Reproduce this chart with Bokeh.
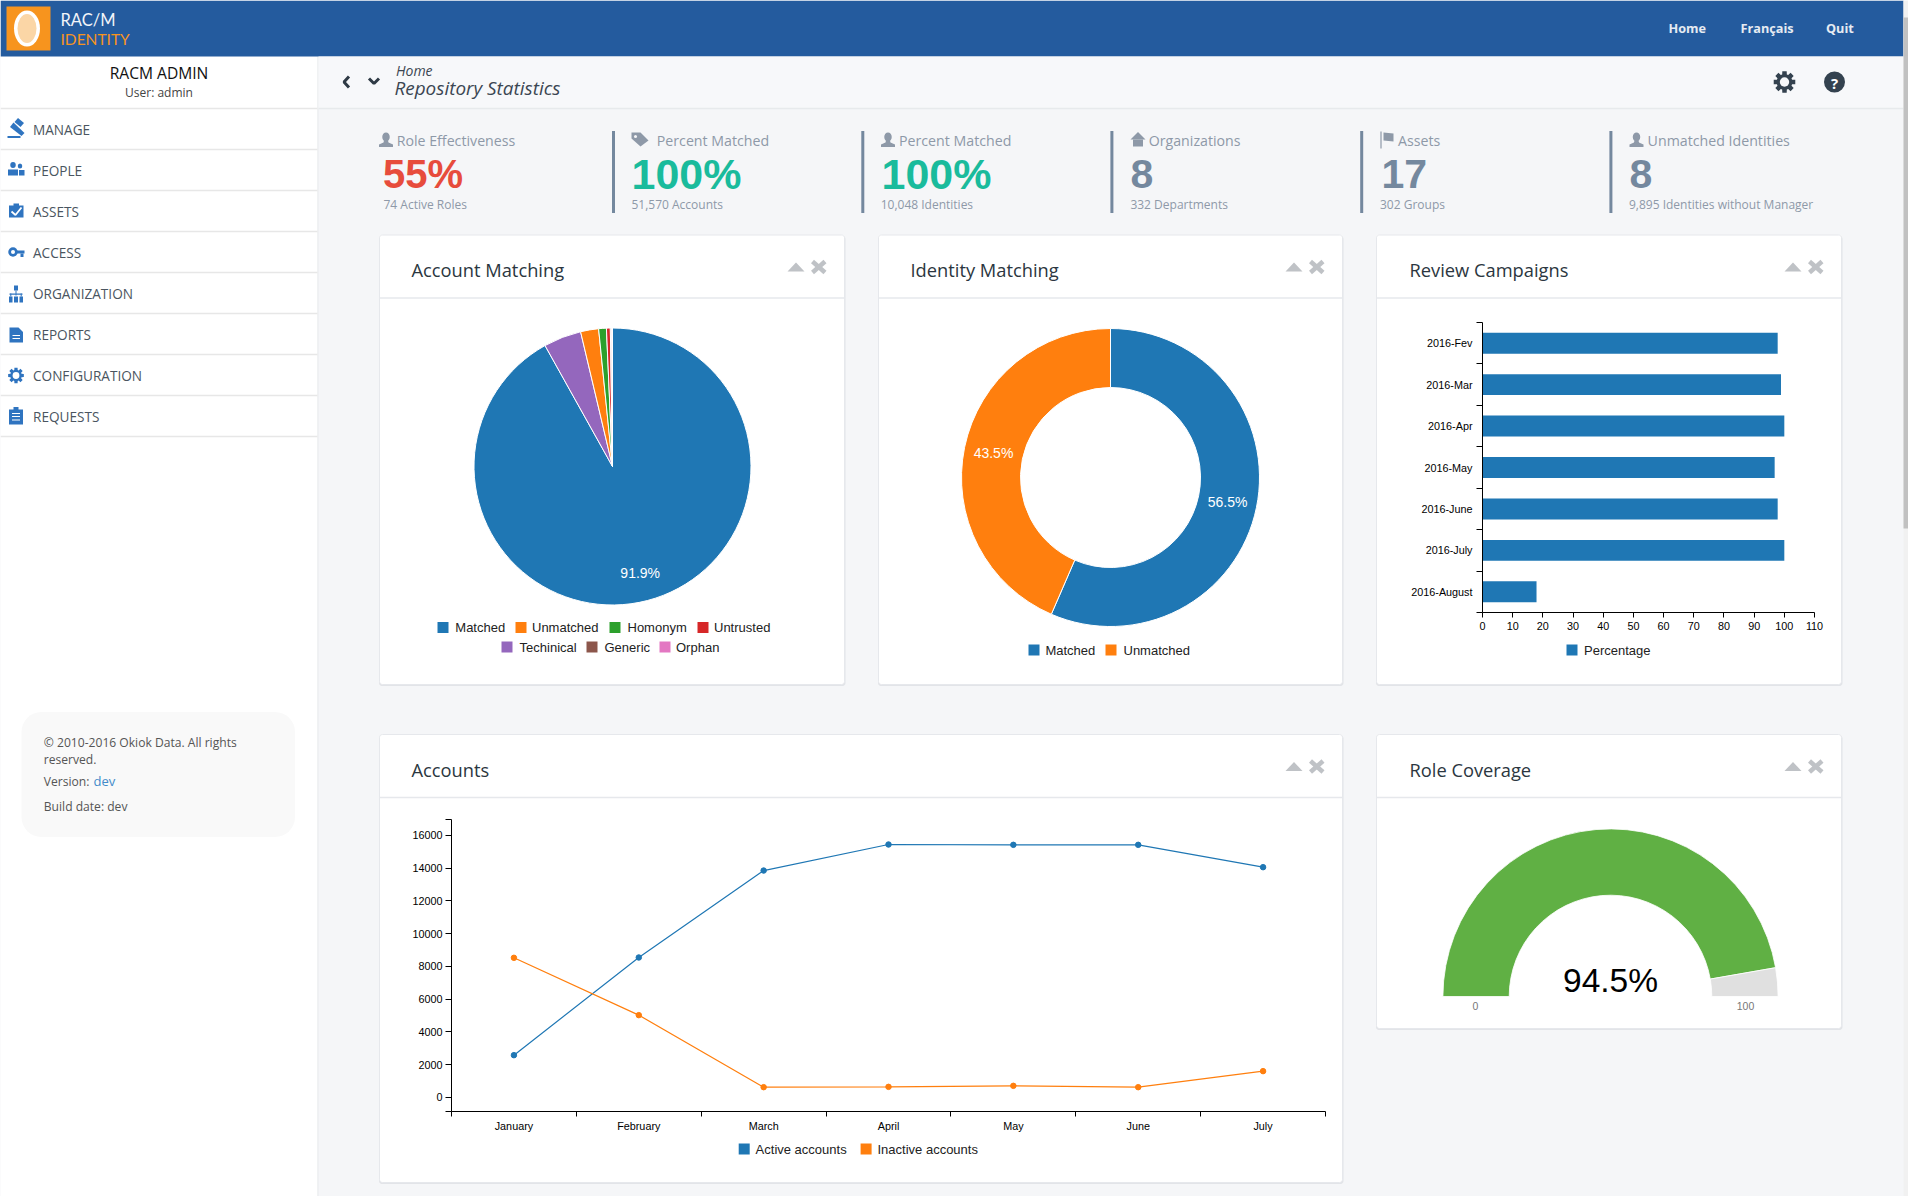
import math
import numpy as np
from bokeh.core.properties import value
from bokeh.embed import file_html
from bokeh.layouts import column
from bokeh.models import FixedTicker, LinearAxis, Range1d
from bokeh.plotting import figure
from bokeh.resources import INLINE

# ---- chart data ----
account_names = ["Matched", "Unmatched", "Homonym", "Untrusted", "Techinical", "Generic", "Orphan"]
account_values = [91.9, 2.1, 0.9, 0.45, 4.4, 0.15, 0.1]
identity_names = ["Matched", "Unmatched"]
identity_values = [56.5, 43.5]
campaign_names = ["2016-Fev", "2016-Mar", "2016-Apr", "2016-May", "2016-June", "2016-July", "2016-August"]
campaign_values = [97.8, 98.9, 100, 96.8, 97.8, 100, 17.9]
months = ["January", "February", "March", "April", "May", "June", "July"]
active_accounts = [2585, 8550, 13860, 15450, 15430, 15430, 14065]
inactive_accounts = [8530, 5030, 630, 650, 712, 630, 1610]
role_coverage = 94.5

stat_labels = ["Role Effectiveness", "Percent Matched", "Percent Matched", "Organizations", "Assets", "Unmatched Identities"]
stat_values = ["55%", "100%", "100%", "8", "17", "8"]
stat_subs = ["74 Active Roles", "51,570 Accounts", "10,048 Identities", "332 Departments", "302 Groups", "9,895 Identities without Manager"]
menu_items = ["MANAGE", "PEOPLE", "ASSETS", "ACCESS", "ORGANIZATION", "REPORTS", "CONFIGURATION", "REQUESTS"]
nav_items = ["Home", "Français", "Quit"]
card_titles = ["Account Matching", "Identity Matching", "Review Campaigns", "Accounts", "Role Coverage"]

# ---- styles ----
PALETTE = ["#1f77b4", "#ff7f0e", "#2ca02c", "#d62728", "#9467bd", "#8c564b", "#e377c2"]
BG = "#f5f6f8"
UI = "Open Sans"
CH = "Liberation Sans"

# page figure: data coordinates equal page pixels of the screenshot
PW, PH = 1908, 1196
p = figure(width=PW, height=PH, x_range=Range1d(0, PW), y_range=Range1d(PH, 0),
           output_backend="svg", toolbar_location=None, min_border=0, frame_align=False,
           x_axis_type=None, y_axis_type=None, outline_line_color=None,
           background_fill_color=BG, border_fill_color=BG)
p.grid.visible = False


def txt(x, y, s, size, color, font=UI, style="normal", align="left", base="middle"):
    p.text([x], [y], text=[s], text_font=value(font), text_font_size=f"{size}px", text_color=color,
           text_font_style=style, text_align=align, text_baseline=base)


def box(x0, y0, x1, y1, color):
    p.quad(left=[x0], right=[x1], top=[y0], bottom=[y1], fill_color=color, line_color=None)


def poly(xs, ys, color):
    p.patch(list(xs), list(ys), fill_color=color, line_color=None)


def ell(x, y, w, h, color):
    p.ellipse([x], [y], width=w, height=h, fill_color=color, line_color=None)


def ln(xs, ys, color, w=1.0):
    p.line(list(xs), list(ys), line_color=color, line_width=w)


def rrect(x0, y0, x1, y1, r, color, line=None):
    xs, ys = [], []
    for cx, cy, a0 in [(x1 - r, y0 + r, -90), (x1 - r, y1 - r, 0), (x0 + r, y1 - r, 90), (x0 + r, y0 + r, 180)]:
        for a in np.radians(np.linspace(a0, a0 + 90, 9)):
            xs.append(cx + r * math.cos(a))
            ys.append(cy + r * math.sin(a))
    p.patch(xs, ys, fill_color=color, line_color=line, line_width=1)


def gear(x, y, r, color, hole):
    xs, ys = [], []
    for i in range(8):
        c = i * math.pi / 4
        for da, k in [(-0.30, 0.72), (-0.20, 1.0), (0.20, 1.0), (0.30, 0.72)]:
            xs.append(x + r * k * math.cos(c + da))
            ys.append(y + r * k * math.sin(c + da))
    poly(xs, ys, color)
    ell(x, y, r * 0.85, r * 0.85, hole)


def person(x, y, color):
    ell(x + 6.5, y + 4.5, 7.5, 9, color)
    poly([x + 4.5, x + 8.5, x + 9, x + 13.5, x + 13.5, x - 0.5, x - 0.5, x + 4],
         [y + 8, y + 8, y + 10, y + 12, y + 14.5, y + 14.5, y + 12, y + 10], color)


def legend(names, colors, sq_x, text_x, y):
    for n, c, sx, tx in zip(names, colors, sq_x, text_x):
        box(sx, y - 5.5, sx + 11, y + 5.5, c)
        txt(tx - 0.5, y, n, 13, "#222222", font=CH)


# ---- page chrome ----
box(0, 0, 318, PH, "#ffffff")
ln([317.5, 317.5], [56, PH], "#e7eaec", 1.2)
box(0, 0, 1903, 56, "#245b9e")
box(318, 56, 1903, 108, "#f7f8fa")
ln([318, 1903], [108, 108], "#e7eaec", 1.5)
# window scrollbar
box(1903, 0, PW, PH, "#f1f1f1")
box(1903, 17, PW, 528, "#c1c1c1")

# logo
box(6, 6, 50, 50, "#f7941e")
ell(26.5, 28, 26, 36, "#ffffff")
ell(26.5, 28, 19, 29, "#fbd6a6")
txt(60, 19.5, "RAC/M", 16.5, "#f2f5f9", font="Lato")
txt(60, 38, "IDENTITY", 15.5, "#f7941e", font="Lato")

for s, x in zip(nav_items, [1668, 1740, 1825.5]):
    txt(x, 27.5, s, 12.7, "#e6ebf2", style="bold")

# sidebar
txt(158.5, 72.5, "RACM ADMIN", 15.6, "#111111", align="center")
txt(158.5, 92, "User: admin", 12, "#444444", align="center")
for yy in [108, 149, 190, 231, 272, 313, 354, 395, 436]:
    ln([0, 317], [yy, yy], "#e7e7e7", 1.3)
menu_y = [128.6, 169.6, 210.6, 251.6, 292.6, 333.6, 374.6, 415.6]
for s, yy in zip(menu_items, menu_y):
    txt(32.5, yy, s, 13.6, "#4a5560")

ICON = "#2f74c0"
# gavel
poly([14, 20, 23.5, 17.5], [121.5, 126.5, 122.5, 117.5], ICON)
poly([9.5, 13, 24, 21], [126.5, 122, 132.5, 135.5], ICON)
ln([7, 20], [136.5, 136.5], ICON, 1.8)
# people
ell(12.5, 164.5, 5.5, 6, ICON)
ell(19.5, 165.5, 4.5, 5, ICON)
poly([7.5, 17.5, 17.5, 7.5], [175, 175, 169, 169], ICON)
poly([18.5, 24, 24, 18.5], [175, 175, 169.5, 169.5], ICON)
# assets clipboard
box(8.5, 205, 23, 217, ICON)
box(13, 203, 18.5, 207, ICON)
ln([11, 15, 21], [211, 214.5, 207], "#ffffff", 1.8)
# key
ell(12.5, 251.5, 9.5, 9.5, ICON)
ell(12.5, 251.5, 4, 4, "#ffffff")
box(15, 250, 24, 253, ICON)
box(20, 253, 23, 256.5, ICON)
# sitemap
box(13.5, 285, 17.5, 290, ICON)
box(15, 290, 16, 295, ICON)
box(9, 293, 22, 294.3, ICON)
box(8.5, 296, 12, 302, ICON)
box(13.5, 296, 17.5, 302, ICON)
box(19, 296, 22.5, 302, ICON)
box(9.8, 293, 10.8, 296, ICON)
box(20.2, 293, 21.2, 296, ICON)
# report file
poly([9, 18, 22.5, 22.5, 9], [327, 327, 331.5, 342, 342], ICON)
for yy in [335, 338]:
    ln([12, 19.5], [yy, yy], "#ffffff", 1.2)
# configuration gear
gear(15.5, 375, 8, ICON, "#ffffff")
# requests clipboard
box(8.5, 409, 22.5, 424, ICON)
box(13, 406.5, 18, 410, ICON)
for yy in [413, 416, 419.5]:
    ln([11.5, 19.5], [yy, yy], "#ffffff", 1.2)

# footer
rrect(21, 711.5, 294.5, 836.5, 20, "#f9f9f9")
txt(43.3, 741.7, "© 2010-2016 Okiok Data. All rights", 12.1, "#555555")
txt(43.3, 759, "reserved.", 12.1, "#555555")
txt(43.3, 780.7, "Version:", 12.1, "#555555")
txt(93, 780.7, "dev", 13, "#428bca")
txt(43.3, 806, "Build date: dev", 12.1, "#555555")

# breadcrumb bar
ln([348.5, 343.5, 348.5], [76, 81.5, 87], "#2f3a45", 3)
ln([368.5, 373.5, 378.5], [78, 83, 78], "#2f3a45", 3)
txt(395.5, 69.7, "Home", 14, "#3b4652", style="italic")
txt(394, 87.5, "Repository Statistics", 18.9, "#3b4652", style="italic")
gear(1784, 81.5, 11, "#34424f", "#f7f8fa")
ell(1834, 81.5, 21, 21, "#34424f")
txt(1834, 82, "?", 15, "#ffffff", style="bold", align="center")

# key figures
GREY = "#8e99a8"
STEEL = "#74889e"
val_colors = ["#e74c3c", "#1abb9c", "#1abb9c", STEEL, STEEL, STEEL]
val_sizes = [40, 43, 43, 41, 41, 41]
label_x = [396.2, 656.3, 898.5, 1148.2, 1397.5, 1647.1]
value_x = [384.5, 633, 883, 1132, 1383, 1631]
sub_x = [383, 631, 880.2, 1129.9, 1379.5, 1628.5]
for lab, val, sub, lx, vx, sx, col, sz in zip(stat_labels, stat_values, stat_subs, label_x, value_x, sub_x, val_colors, val_sizes):
    txt(lx, 140, lab, 14.2, GREY)
    txt(vx - 2, 173, val, sz, col, font=CH, style="bold")
    txt(sx, 204, sub, 12, GREY)
for x in [613, 862.3, 1111.4, 1361.2, 1610.4]:
    box(x - 1.5, 130.5, x + 1.5, 212.5, STEEL)
person(379, 132, GREY)
person(881, 132, GREY)
person(1629.5, 132, GREY)
# tags
poly([631, 640, 648, 640, 631], [132, 132, 140, 146, 138], GREY)
ell(635, 136, 3, 3, BG)
# home
poly([1137.5, 1145, 1130], [131.5, 139, 139], GREY)
box(1132.5, 139, 1142.5, 146, GREY)
# flag
ln([1380.5, 1380.5], [131, 148], GREY, 1.2)
poly([1383, 1393, 1393, 1383], [132, 133, 141, 140], GREY)

# cards
cards = [(379, 234.5, 844, 684), (878, 234.5, 1342, 684), (1376, 234.5, 1841, 684),
         (379, 734, 1342, 1182), (1376, 734, 1841, 1028)]
title_x = [411, 910, 1409, 411, 1409]
for (x0, y0, x1, y1), title, tx in zip(cards, card_titles, title_x):
    rrect(x0 - 0.5, y0 + 1, x1 + 1, y1 + 1.5, 3, "#e2e4e8")
    rrect(x0, y0, x1, y1, 3, "#ffffff", "#e6e8ec")
    ln([x0, x1], [y0 + 63, y0 + 63], "#e6e8ec", 1.5)
    txt(tx, y0 + 34.5, title, 18.3, "#2b3640")
    poly([x1 - 57, x1 - 40, x1 - 48.5], [y0 + 36.5, y0 + 36.5, y0 + 27.5], "#bfc2c6")
    ln([x1 - 32, x1 - 19.5], [y0 + 26.5, y0 + 37.5], "#bfc2c6", 4.5)
    ln([x1 - 32, x1 - 19.5], [y0 + 37.5, y0 + 26.5], "#bfc2c6", 4.5)

# legends
legend(account_names[:4], PALETTE[:4], [437, 515, 609, 697], [455.3, 532, 627.5, 714], 627)
legend(account_names[4:], PALETTE[4:], [501, 586, 659], [519.6, 604.5, 676], 646.5)
legend(identity_names, PALETTE, [1028, 1105], [1045.4, 1123.5], 649.5)
legend(["Percentage"], PALETTE, [1566], [1584], 649.5)
legend(["Active accounts", "Inactive accounts"], PALETTE, [738.2, 860.1], [755.6, 877.5], 1148.5)


def place(fig, left, top):
    fig.styles = {"position": "absolute", "left": f"{left}px", "top": f"{top}px"}
    return fig


def disc_figure(cx, cy, half):
    """Transparent figure whose data units are pixels, origin on (cx, cy)."""
    f = figure(width=2 * half, height=2 * half, x_range=Range1d(-half, half), y_range=Range1d(-half, half),
               output_backend="svg", toolbar_location=None, min_border=0, frame_align=False,
               x_axis_type=None, y_axis_type=None, outline_line_color=None,
               background_fill_alpha=0, border_fill_alpha=0)
    f.grid.visible = False
    return place(f, cx - half, cy - half)


def sweep(values):
    frac = np.cumsum([0] + list(values)) / sum(values)
    return math.pi / 2 - 2 * math.pi * frac[:-1], math.pi / 2 - 2 * math.pi * frac[1:]


def slice_label(f, start, end, radius, val):
    mid = (start + end) / 2
    f.text([radius * math.cos(mid)], [radius * math.sin(mid)], text=[f"{val}%"], text_color="#ffffff",
           text_font=value(CH), text_font_size="14px", text_align="center", text_baseline="middle")


# Account Matching pie
order = np.argsort(account_values)[::-1]
pie = disc_figure(611.5, 465.5, 150)
s, e = sweep([account_values[i] for i in order])
pie.wedge(0, 0, radius=138.5, start_angle=s, end_angle=e, direction="clock",
          fill_color=[PALETTE[i] for i in order], line_color="#ffffff", line_width=1)
slice_label(pie, s[0], e[0], 110, account_values[0])

# Identity Matching donut
donut = disc_figure(1110, 477, 160)
s, e = sweep(identity_values)
donut.annular_wedge(0, 0, inner_radius=90, outer_radius=149, start_angle=s, end_angle=e, direction="clock",
                    fill_color=PALETTE[:2], line_color="#ffffff", line_width=1)
for a, b, v in zip(s, e, identity_values):
    slice_label(donut, a, b, 119.5, v)

# Review Campaigns bars
L, R, T, B = 100, 25, 8, 40
bars = figure(width=L + 332 + R, height=T + 290 + B, x_range=Range1d(0, 110),
              y_range=Range1d(len(campaign_names), 0), output_backend="svg", toolbar_location=None,
              min_border_left=L, min_border_right=R, min_border_top=T, min_border_bottom=B, frame_align=False,
              x_axis_type=None, y_axis_type=None, outline_line_color=None,
              background_fill_alpha=0, border_fill_alpha=0)
bars.grid.visible = False
ypos = [i + 0.5 for i in range(len(campaign_names))]
bars.hbar(y=ypos, right=campaign_values, left=0, height=0.505, fill_color=PALETTE[0], line_color=None)
bars.add_layout(LinearAxis(ticker=FixedTicker(ticks=list(range(0, 111, 10)))), "below")
bars.add_layout(LinearAxis(ticker=FixedTicker(ticks=ypos, minor_ticks=list(range(len(campaign_names) + 1))),
                           major_label_overrides=dict(zip(ypos, campaign_names))), "left")
place(bars, 1482 - L, 322 - T)

# Accounts lines
L, R, T, B = 60, 25, 8, 40
lines = figure(width=L + 874 + R, height=T + 292 + B, x_range=Range1d(0, len(months)),
               y_range=Range1d(-855, 16977), output_backend="svg", toolbar_location=None,
               min_border_left=L, min_border_right=R, min_border_top=T, min_border_bottom=B, frame_align=False,
               x_axis_type=None, y_axis_type=None, outline_line_color=None,
               background_fill_alpha=0, border_fill_alpha=0)
lines.grid.visible = False
xpos = [i + 0.5 for i in range(len(months))]
for series, color in zip([active_accounts, inactive_accounts], PALETTE):
    lines.line(xpos, series, line_color=color, line_width=1.2)
    lines.scatter(xpos, series, size=5.5, fill_color=color, line_color=color)
lines.add_layout(LinearAxis(ticker=FixedTicker(ticks=xpos, minor_ticks=list(range(len(months) + 1))),
                            major_label_overrides=dict(zip(xpos, months))), "below")
lines.add_layout(LinearAxis(ticker=FixedTicker(ticks=list(range(0, 16001, 2000)), minor_ticks=[-855, 16977])), "left")
place(lines, 451 - L, 819 - T)

for f, (ymaj, ymin), (xmaj, xmin), stand in [(bars, (0, 6), (5, 0), 4), (lines, (6, 6), (0, 5), 3)]:
    for ax, (maj, mnr) in [(f.left[0], (ymaj, ymin)), (f.below[0], (xmaj, xmin))]:
        ax.axis_line_color = "#000000"
        ax.major_tick_line_color = "#000000"
        ax.minor_tick_line_color = "#000000"
        ax.major_tick_out = maj
        ax.major_tick_in = 0
        ax.minor_tick_out = mnr
        ax.minor_tick_in = 0
        ax.major_label_text_font = CH
        ax.major_label_text_font_size = "10.8px"
        ax.major_label_text_color = "#000000"
        ax.major_label_standoff = stand

# Role Coverage gauge
g = figure(width=380, height=190, x_range=Range1d(-190, 190), y_range=Range1d(-10, 180),
           output_backend="svg", toolbar_location=None, min_border=0, frame_align=False,
           x_axis_type=None, y_axis_type=None, outline_line_color=None,
           background_fill_alpha=0, border_fill_alpha=0)
g.grid.visible = False
split = math.pi * (1 - role_coverage / 100)
g.annular_wedge(0, 0, inner_radius=101.3, outer_radius=167.6, start_angle=[math.pi, split],
                end_angle=[split, 0], direction="clock", fill_color=["#60b044", "#e0e0e0"],
                line_color="#ffffff", line_width=0.8)
g.text([0], [16], text=[f"{role_coverage}%"], text_font=value(CH), text_font_size="33.5px", text_color="#000000",
       text_align="center", text_baseline="middle")
place(g, 1609.5 - 190, 996 - 180)
txt(1475, 1005, "0", 10.5, "#777777", font=CH, align="center")
txt(1745, 1005, "100", 10.5, "#777777", font=CH, align="center")

root = column(p, pie, donut, bars, lines, g)
open("out.html", "w").write(file_html(root, INLINE))
